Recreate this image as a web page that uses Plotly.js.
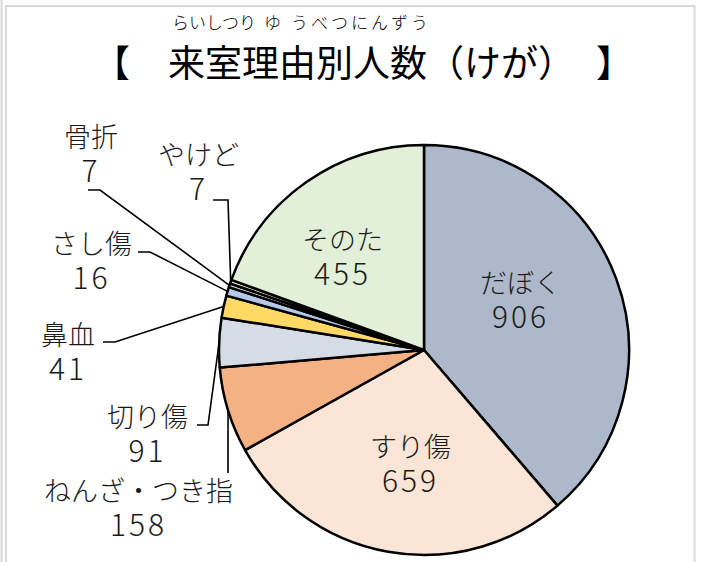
<!DOCTYPE html>
<html>
<head>
<meta charset="utf-8">
<script src="https://cdn.plot.ly/plotly-3.0.1.min.js"></script>
<style>
  html, body { margin: 0; padding: 0; background: #fff; }
  #chart { width: 702px; height: 562px; }
</style>
</head>
<body>
<div id="chart"></div>
<script>
// ---- data ----
const labels = ['だぼく', 'すり傷', 'ねんざ・つき指', '切り傷', '鼻血', 'さし傷', '骨折', 'やけど', 'そのた'];
const values = [906, 659, 158, 91, 41, 16, 7, 7, 455];
const colors = ['#ADB9CA', '#FBE5D6', '#F4B183', '#D6DCE5', '#FFD966', '#B4C7E7', '#DAE3F3', '#FFF2CC', '#E2F0D9'];
const titleText = '来室理由別人数（けが）';
const rubyParts = ['らいしつり', 'ゆ', 'うべつにんずう'];

// ---- layout config (pixels) ----
const W = 702, H = 562;
const CX = 424, CY = 350, R = 205;
const px = x => x / W;
const py = y => 1 - y / H;

// label block centres: [x, yMid]
const labelPos = [
  [520, 300],
  [410, 463],
  [138, 507],
  [147, 433],
  [68, 351],
  [91, 260],
  [91, 153],
  [198, 171],
  [342, 256]
];
// leader start points (label side), null = no leader
const leaderStart = [
  null, null,
  [[228, 473]],
  [[197, 425], [208, 425]],
  [[103, 342], [115, 342]],
  [[138, 252], [150, 252]],
  [[88, 190], [100, 190]],
  [[213, 200], [228, 200]],
  null
];

const total = values.reduce((a, b) => a + b, 0);
let cum = 0;
const shapes = [];
const annotations = [];
const font = 'Noto Sans CJK JP';

values.forEach((v, i) => {
  const mid = (cum + v / 2) / total * 2 * Math.PI;
  cum += v;
  const ex = CX + R * Math.sin(mid);
  const ey = CY - R * Math.cos(mid);
  const p = labelPos[i];
  annotations.push({ x: px(p[0]), y: py(p[1]), xref: 'paper', yref: 'paper',
    text: labels[i] + '<br><span style="font-size:30px;letter-spacing:3px">' + v + '</span>',
    showarrow: false, xanchor: 'center', yanchor: 'middle', align: 'center',
    font: { family: font, size: 27, color: '#1a1a1a', weight: 300 } });
  const ls = leaderStart[i];
  if (ls) {
    const path = 'M ' + ls.map(q => px(q[0]) + ' ' + py(q[1])).join(' L ') + ' L ' + px(ex) + ' ' + py(ey);
    shapes.push({ type: 'path', xref: 'paper', yref: 'paper', path: path, line: { color: '#000', width: 1.6 } });
  }
});

// frame
shapes.push({ type: 'rect', xref: 'paper', yref: 'paper', x0: px(6), x1: px(694.5), y0: py(600), y1: py(6),
  line: { color: '#D9D9D9', width: 2 }, fillcolor: 'rgba(0,0,0,0)', layer: 'below' });
shapes.push({ type: 'line', xref: 'paper', yref: 'paper', x0: px(1.5), x1: px(1.5), y0: py(0), y1: py(562),
  line: { color: '#D9D9D9', width: 2 }, layer: 'below' });

// title
annotations.push({ x: px(132), y: py(61), xref: 'paper', yref: 'paper', text: '【', showarrow: false,
  xanchor: 'right', yanchor: 'middle', font: { family: font, size: 37, color: '#000' } });
annotations.push({ x: px(166), y: py(61), xref: 'paper', yref: 'paper', text: titleText, showarrow: false,
  xanchor: 'left', yanchor: 'middle', font: { family: font, size: 37, color: '#000' } });
annotations.push({ x: px(594), y: py(61), xref: 'paper', yref: 'paper', text: '】', showarrow: false,
  xanchor: 'left', yanchor: 'middle', font: { family: font, size: 37, color: '#000' } });
const rubyX = [170, 262, 289];
const rubySpacing = [0, 0, 3];
rubyParts.forEach((t, i) => {
  annotations.push({ x: px(rubyX[i]), y: py(21), xref: 'paper', yref: 'paper',
    text: '<span style="letter-spacing:' + rubySpacing[i] + 'px">' + t + '</span>', showarrow: false,
    xanchor: 'left', yanchor: 'middle', font: { family: font, size: 17, color: '#000', weight: 300 } });
});

const trace = {
  type: 'pie',
  labels: labels,
  values: values,
  sort: false,
  direction: 'clockwise',
  rotation: 0,
  textinfo: 'none',
  hoverinfo: 'none',
  marker: { colors: colors, line: { color: '#000', width: 2.5 } },
  domain: { x: [px(CX - R), px(CX + R)], y: [py(CY + R), py(CY - R)] },
  showlegend: false
};

Plotly.newPlot('chart', [trace], {
  width: W, height: H,
  margin: { l: 0, r: 0, t: 0, b: 0 },
  paper_bgcolor: '#fff',
  showlegend: false,
  shapes: shapes,
  annotations: annotations
}, { staticPlot: true });
</script>
</body>
</html>
